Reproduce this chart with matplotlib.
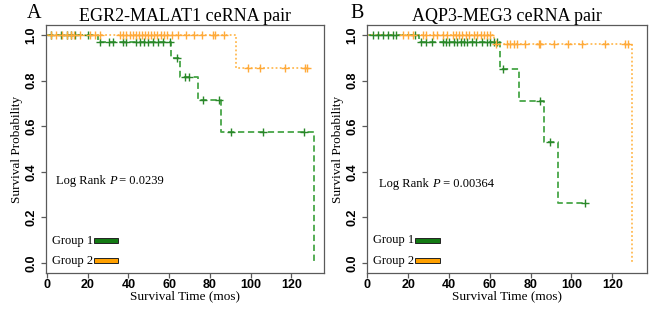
import numpy as np
import matplotlib
matplotlib.use("Agg")
import matplotlib.pyplot as plt
from matplotlib.patches import Rectangle

# ---------------- data ----------------
titles = ["EGR2-MALAT1 ceRNA pair", "AQP3-MEG3 ceRNA pair"]
panel_letters = ["A", "B"]
pvalues = ["0.0239", "0.00364"]
group_names = ["Group 1", "Group 2"]
xticks = [0, 20, 40, 60, 80, 100, 120]
yticks = [0.0, 0.2, 0.4, 0.6, 0.8, 1.0]

# Panel A, group 1 (green)
a_g1_times = [0, 25.0, 60.8, 65.2, 73.9, 85.6, 130.9]
a_g1_surv = [1.0, 0.970, 0.900, 0.818, 0.717, 0.575, 0.0]
a_g1_end = 130.9
a_g1_censor = [2, 7, 10, 12, 13.5, 20, 26, 30.5, 32.5, 37.4, 38.7, 43.6, 45.6,
               47.5, 49.7, 52.1, 54.5, 57, 60.3, 63.9, 67.6, 69.8, 76.6, 84.5,
               90.5, 106, 126]
# Panel A, group 2 (orange)
a_g2_times = [0, 93.0]
a_g2_surv = [1.0, 0.857]
a_g2_end = 127.8
a_g2_censor = [1.8, 4.4, 7.2, 9.6, 12, 13.2, 16.2, 20.9, 23.5, 26, 35.8, 37.5,
               39, 40.5, 42, 43.5, 45, 46.5, 48, 49.5, 51, 52.5, 54, 56, 57.5,
               59, 61.5, 64.5, 68, 72, 76, 81.5, 82.5, 87, 98.7, 104.4, 116.7,
               126.5, 127.6]
# Panel B, group 1 (green)
b_g1_times = [0, 25.4, 65.2, 74.2, 86.4, 93.2]
b_g1_surv = [1.0, 0.971, 0.851, 0.711, 0.533, 0.264]
b_g1_end = 106.4
b_g1_censor = [2.6, 5, 7.5, 10, 12.4, 14, 23.4, 26.2, 28.6, 31.6, 36.8, 38.4,
               40, 42.4, 44.1, 45.7, 47.3, 49, 51.4, 53, 56.3, 58.7, 60.3, 62,
               63.6, 66.5, 84.7, 89.6, 106.4]
# Panel B, group 2 (orange)
b_g2_times = [0, 62.0, 129.8]
b_g2_surv = [1.0, 0.960, 0.0]
b_g2_end = 129.8
b_g2_censor = [17.3, 19.7, 22.1, 27, 28.6, 31.9, 34.3, 36.8, 39.2, 41.7, 43.3,
               44.9, 46.5, 48.1, 49.8, 52.2, 53.8, 55.5, 57.1, 58.7, 60.3, 62.8,
               68.5, 70.1, 71.7, 73.4, 77.4, 83.9, 84.7, 91.2, 98.5, 105, 116.4,
               126.2, 127.8]

panels = [
    [(a_g1_times, a_g1_surv, a_g1_end, a_g1_censor),
     (a_g2_times, a_g2_surv, a_g2_end, a_g2_censor)],
    [(b_g1_times, b_g1_surv, b_g1_end, b_g1_censor),
     (b_g2_times, b_g2_surv, b_g2_end, b_g2_censor)],
]

# ---------------- style ----------------
SERIF = ["Liberation Serif", "DejaVu Serif"]
SANS = ["Liberation Sans", "DejaVu Sans"]
line_colors = ["#48a648", "#ffbb55"]
mark_colors = ["#2a872a", "#ffaa3a"]
patch_colors = ["#137a13", "#ffa000"]
line_styles = [(0, (3.5, 2.0)), (0, (1.0, 1.3))]
spine_col = "#5a5a5a"

fig = plt.figure(figsize=(6.5, 3.13), dpi=100)
axes_rects = [[46 / 650, 40 / 313, 278 / 650, 248 / 313],
              [367 / 650, 40 / 313, 280 / 650, 248 / 313]]
letter_x = [27 / 650, 350 / 650]
text_pos = [(4.4, 0.362), (5.9, 0.346)]
legend_ys = [(0.097, 0.009), (0.099, 0.010)]
legend_x = [(23.0, 35.0), (23.4, 35.4)]
xlims = [(-0.5, 136.0), (-0.2, 137.0)]


def surv_at(times, surv, t):
    idx = np.searchsorted(times, t, side="right") - 1
    return np.asarray(surv)[idx]


for p in range(2):
    ax = fig.add_axes(axes_rects[p])
    for g, (times, surv, end, cens) in enumerate(panels[p]):
        xs = list(times) + [end]
        ys = list(surv) + [surv[-1]]
        ax.step(xs, ys, where="post", color=line_colors[g],
                linestyle=line_styles[g], linewidth=1.3, zorder=2)
        cy = surv_at(times, surv, np.array(cens))
        ax.plot(cens, cy, linestyle="none", marker="+", markersize=5.5,
                markeredgewidth=1.0, color=mark_colors[g], zorder=3)

    ax.set_xlim(*xlims[p])
    ax.set_ylim(-0.044, 1.045)
    ax.set_xticks(xticks)
    ax.set_yticks(yticks)
    ax.set_xticklabels([str(v) for v in xticks], fontfamily=SANS,
                       fontweight="bold", fontsize=9)
    ax.set_yticklabels(["%.1f" % v for v in yticks], fontfamily=SANS,
                       fontweight="bold", fontsize=9, rotation=90,
                       va="center")
    ax.tick_params(axis="both", length=3.5, width=0.9, color=spine_col,
                   direction="out")
    ax.tick_params(axis="x", pad=0.5)
    ax.tick_params(axis="y", pad=2.5)
    for s in ax.spines.values():
        s.set_color(spine_col)
        s.set_linewidth(0.9)

    ax.set_xlabel("Survival Time (mos)", fontfamily=SERIF, fontsize=9.5,
                  labelpad=0)
    ax.set_ylabel("Survival Probability", fontfamily=SERIF, fontsize=9.5,
                  labelpad=2)
    ax.set_title(titles[p], fontfamily=SERIF, fontsize=13, pad=3)
    fig.text(letter_x[p], 1 - 18 / 313, panel_letters[p], fontfamily=SERIF,
             fontsize=14.5, va="baseline", ha="left")

    tx, ty = text_pos[p]
    t1 = ax.text(tx, ty, "Log Rank ", fontfamily=SERIF, fontsize=9,
                 va="center", ha="left")
    fig.canvas.draw()
    bb = t1.get_window_extent()
    inv = ax.transData.inverted()
    x2 = inv.transform((bb.x1, bb.y0))[0]
    t2 = ax.text(x2, ty, "P", fontfamily=SERIF, fontsize=9, style="italic",
                 va="center", ha="left")
    fig.canvas.draw()
    bb2 = t2.get_window_extent()
    x3 = inv.transform((bb2.x1, bb2.y0))[0]
    ax.text(x3, ty, " = " + pvalues[p], fontfamily=SERIF, fontsize=9,
            va="center", ha="left")

    x0, x1 = legend_x[p]
    for g in range(2):
        yc = legend_ys[p][g]
        ax.text(x0 - 0.3, yc, group_names[g], fontfamily=SERIF, fontsize=9,
                va="center", ha="right")
        ax.add_patch(Rectangle((x0, yc - 0.011), x1 - x0, 0.022,
                               facecolor=patch_colors[g], edgecolor="#222222",
                               linewidth=0.7, zorder=4))

fig.savefig("out.png", dpi=100)
